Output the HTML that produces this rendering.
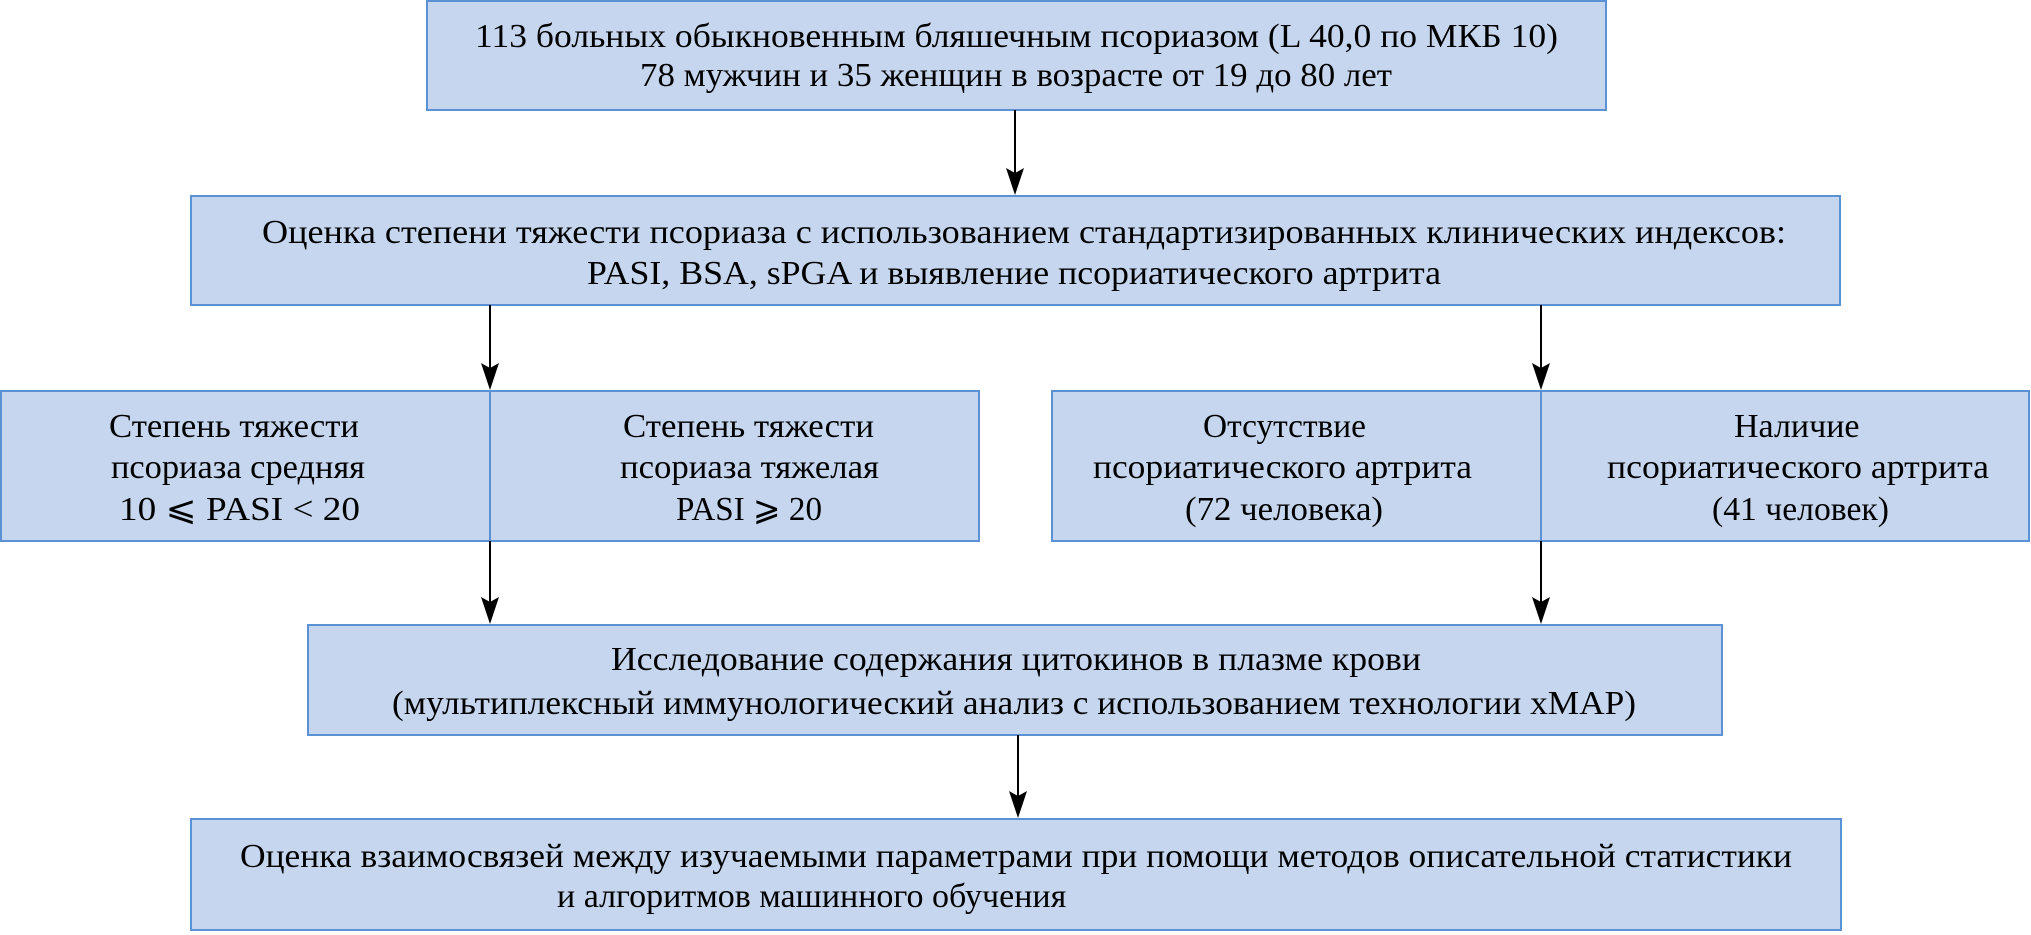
<!DOCTYPE html>
<html><head><meta charset="utf-8"><style>html,body{margin:0;padding:0;background:#fff}svg{display:block}</style></head>
<body>
<svg width="2031" height="935" viewBox="0 0 2031 935" xmlns="http://www.w3.org/2000/svg">
<g fill="#c5d6ee" stroke="#5b92d6" stroke-width="2">
<rect x="427" y="1" width="1179" height="109"/>
<rect x="191" y="196" width="1649" height="109"/>
<rect x="1" y="391" width="978" height="150"/>
<line x1="490" y1="391" x2="490" y2="541"/>
<rect x="1052" y="391" width="977" height="150"/>
<line x1="1541" y1="391" x2="1541" y2="541"/>
<rect x="308" y="625" width="1414" height="110"/>
<rect x="191" y="819" width="1650" height="111"/>
</g>
<g stroke="#000" stroke-width="2">
<line x1="1015" y1="110" x2="1015" y2="175"/>
<line x1="490" y1="305" x2="490" y2="370"/>
<line x1="1541" y1="305" x2="1541" y2="370"/>
<line x1="490" y1="541" x2="490" y2="605"/>
<line x1="1541" y1="541" x2="1541" y2="605"/>
<line x1="1018" y1="735" x2="1018" y2="800"/>
</g>
<g fill="#000">
<path d="M1006,168 L1015,195 L1024,168 L1015,173 Z"/>
<path d="M481,363 L490,390 L499,363 L490,368 Z"/>
<path d="M1532,363 L1541,390 L1550,363 L1541,368 Z"/>
<path d="M481,597 L490,624 L499,597 L490,602 Z"/>
<path d="M1532,597 L1541,624 L1550,597 L1541,602 Z"/>
<path d="M1009,791 L1018,818 L1027,791 L1018,796 Z"/>
</g>
<g font-family="'Liberation Serif',serif" font-size="34" fill="#000">
<text x="475" y="47" textLength="1083" lengthAdjust="spacingAndGlyphs">113 больных обыкновенным бляшечным псориазом (L 40,0 по МКБ 10)</text>
<text x="640" y="86" textLength="752" lengthAdjust="spacingAndGlyphs">78 мужчин и 35 женщин в возрасте от 19 до 80 лет</text>
<text x="262" y="243" textLength="1524" lengthAdjust="spacingAndGlyphs">Оценка степени тяжести псориаза с использованием стандартизированных  клинических индексов:</text>
<text x="587" y="284" textLength="854" lengthAdjust="spacingAndGlyphs">PASI, BSA, sPGA и выявление псориатического артрита</text>
<text x="109" y="437" textLength="250" lengthAdjust="spacingAndGlyphs">Степень тяжести</text>
<text x="111" y="478" textLength="254" lengthAdjust="spacingAndGlyphs">псориаза средняя</text>
<text x="119" y="520" textLength="241" lengthAdjust="spacingAndGlyphs">10 ⩽ PASI &lt; 20</text>
<text x="623" y="437" textLength="251" lengthAdjust="spacingAndGlyphs">Степень тяжести</text>
<text x="620" y="478" textLength="259" lengthAdjust="spacingAndGlyphs">псориаза тяжелая</text>
<text x="676" y="520" textLength="146" lengthAdjust="spacingAndGlyphs">PASI ⩾ 20</text>
<text x="1203" y="437" textLength="163" lengthAdjust="spacingAndGlyphs">Отсутствие</text>
<text x="1093" y="478" textLength="379" lengthAdjust="spacingAndGlyphs">псориатического артрита</text>
<text x="1185" y="520" textLength="198" lengthAdjust="spacingAndGlyphs">(72 человека)</text>
<text x="1734" y="437">Наличие</text>
<text x="1607" y="478" textLength="382" lengthAdjust="spacingAndGlyphs">псориатического артрита</text>
<text x="1712" y="520" textLength="177" lengthAdjust="spacingAndGlyphs">(41 человек)</text>
<text x="611" y="670" textLength="810" lengthAdjust="spacingAndGlyphs">Исследование содержания цитокинов в плазме крови</text>
<text x="392" y="714" textLength="1244" lengthAdjust="spacingAndGlyphs">(мультиплексный иммунологический анализ с использованием технологии xMAP)</text>
<text x="240" y="867" textLength="1552" lengthAdjust="spacingAndGlyphs">Оценка взаимосвязей между изучаемыми параметрами при помощи методов описательной статистики</text>
<text x="557" y="907">и алгоритмов машинного обучения</text>
</g>
</svg>
</body></html>
